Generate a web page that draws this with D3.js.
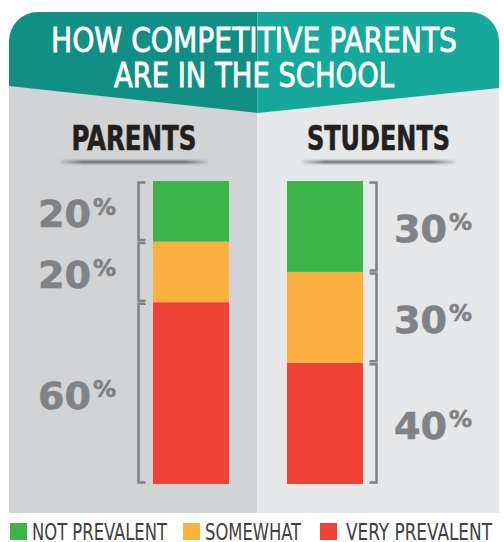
<!DOCTYPE html>
<html>
<head>
<meta charset="utf-8">
<script src="https://cdn.jsdelivr.net/npm/d3@7"></script>
<style>
  html, body { margin: 0; padding: 0; background: #ffffff; }
  svg { display: block; }
</style>
</head>
<body>
<svg id="chart" width="504" height="542"></svg>
<script>
// Survey groups and share of answers (percent) per category
const groups = ["PARENTS", "STUDENTS"];
const notPrevalent = [20, 30];
const somewhat = [20, 30];
const veryPrevalent = [60, 40];
const categories = ["NOT PREVALENT", "SOMEWHAT", "VERY PREVALENT"];
const titleLines = ["HOW COMPETITIVE PARENTS", "ARE IN THE SCHOOL"];

const colors = {
  "NOT PREVALENT": "#3bb54a",
  "SOMEWHAT": "#fbb040",
  "VERY PREVALENT": "#ef4136"
};

const narrow = "'Liberation Sans Narrow', 'DejaVu Sans Condensed', 'Arial Narrow', sans-serif";
const wide = "'DejaVu Sans', Verdana, sans-serif";

const svg = d3.select("#chart");

// ---- layout ----
const panelLeft = 9, panelRight = 499, divider = 257.5, panelTop = 80, panelBottom = 513;
const headTop = 12, headSide = 86, headTip = 113, cornerR = 29;

// background panels
svg.append("rect").attr("x", panelLeft).attr("y", panelTop)
  .attr("width", divider - panelLeft).attr("height", panelBottom - panelTop)
  .attr("fill", "#d1d3d4");
svg.append("rect").attr("x", divider).attr("y", panelTop)
  .attr("width", panelRight - divider).attr("height", panelBottom - panelTop)
  .attr("fill", "#e6e7e8");

// title banner: two halves forming a downward chevron
const leftHead = d3.path();
leftHead.moveTo(panelLeft, headSide);
leftHead.lineTo(panelLeft, headTop + cornerR);
leftHead.arcTo(panelLeft, headTop, panelLeft + cornerR, headTop, cornerR);
leftHead.lineTo(divider, headTop);
leftHead.lineTo(divider, headTip);
leftHead.closePath();

const rightHead = d3.path();
rightHead.moveTo(divider, headTop);
rightHead.lineTo(panelRight - cornerR, headTop);
rightHead.arcTo(panelRight, headTop, panelRight, headTop + cornerR, cornerR);
rightHead.lineTo(panelRight, headSide + 2);
rightHead.lineTo(divider, headTip);
rightHead.closePath();

svg.append("path").attr("d", leftHead.toString()).attr("fill", "#128f84");
svg.append("path").attr("d", rightHead.toString()).attr("fill", "#15a89b");

const titleWidths = [406, 280];
const titleBase = [52, 87];
svg.selectAll("text.title").data(titleLines).join("text")
  .attr("class", "title")
  .attr("x", 254)
  .attr("y", (d, i) => titleBase[i])
  .attr("text-anchor", "middle")
  .attr("textLength", (d, i) => titleWidths[i])
  .attr("lengthAdjust", "spacingAndGlyphs")
  .attr("font-family", narrow)
  .attr("font-size", 34)
  .attr("fill", "#ffffff")
  .attr("stroke", "#ffffff")
  .attr("stroke-width", 0.8)
  .text(d => d);

// ---- scales ----
const y = d3.scaleLinear().domain([0, 100]).range([484, 181]);
const barCenter = d3.scaleOrdinal().domain(groups).range([191, 325]);
const headCenter = d3.scaleOrdinal().domain(groups).range([134, 378.5]);
const barWidth = 76;

// group headings with soft shadow rule underneath
const defs = svg.append("defs");
defs.append("filter").attr("id", "soft")
  .attr("x", "-10%").attr("y", "-200%").attr("width", "120%").attr("height", "500%")
  .append("feGaussianBlur").attr("stdDeviation", 1.2);
const fade = defs.append("linearGradient").attr("id", "fade");
fade.append("stop").attr("offset", "0%").attr("stop-color", "#58595b").attr("stop-opacity", 0.15);
fade.append("stop").attr("offset", "15%").attr("stop-color", "#58595b").attr("stop-opacity", 0.9);
fade.append("stop").attr("offset", "85%").attr("stop-color", "#58595b").attr("stop-opacity", 0.9);
fade.append("stop").attr("offset", "100%").attr("stop-color", "#58595b").attr("stop-opacity", 0.15);

const headWidths = { "PARENTS": 125, "STUDENTS": 143 };
const ruleWidths = { "PARENTS": 148, "STUDENTS": 153 };

svg.selectAll("rect.rule").data(groups).join("rect")
  .attr("class", "rule")
  .attr("x", d => headCenter(d) - ruleWidths[d] / 2)
  .attr("y", 160.5)
  .attr("width", d => ruleWidths[d])
  .attr("height", 3)
  .attr("rx", 1.5)
  .attr("fill", "url(#fade)")
  .attr("filter", "url(#soft)");

svg.selectAll("text.head").data(groups).join("text")
  .attr("class", "head")
  .attr("x", d => headCenter(d))
  .attr("y", 150)
  .attr("text-anchor", "middle")
  .attr("textLength", d => headWidths[d])
  .attr("lengthAdjust", "spacingAndGlyphs")
  .attr("font-family", narrow)
  .attr("font-weight", "bold")
  .attr("font-size", 33)
  .attr("fill", "#231f20")
  .attr("stroke", "#231f20")
  .attr("stroke-width", 0.6)
  .text(d => d);

// ---- stacked bars ----
const rows = groups.map((g, i) => ({
  group: g,
  "NOT PREVALENT": notPrevalent[i],
  "SOMEWHAT": somewhat[i],
  "VERY PREVALENT": veryPrevalent[i]
}));
// bottom-up order: very prevalent, somewhat, not prevalent
const stackKeys = categories.slice().reverse();
const series = d3.stack().keys(stackKeys)(rows);

const segments = [];
series.forEach(s => {
  s.forEach(d => {
    segments.push({ key: s.key, group: d.data.group, y0: d[0], y1: d[1], value: d[1] - d[0] });
  });
});

svg.append("g").selectAll("rect").data(segments).join("rect")
  .attr("x", d => barCenter(d.group) - barWidth / 2)
  .attr("y", d => y(d.y1))
  .attr("width", barWidth)
  .attr("height", d => y(d.y0) - y(d.y1))
  .attr("fill", d => colors[d.key]);

// brackets: parents on the left of the bar, students on the right
const bracketGap = 14.5, tickLen = 7, inset = 1.5;
const bracket = d => {
  const left = d.group === groups[0];
  const xv = left ? barCenter(d.group) - barWidth / 2 - bracketGap
                  : barCenter(d.group) + barWidth / 2 + bracketGap - 1;
  const xt = left ? xv + tickLen : xv - tickLen;
  const top = y(d.y1) + inset, bot = y(d.y0) - inset;
  return `M${xt},${top}H${xv}V${bot}H${xt}`;
};
svg.append("g").selectAll("path").data(segments).join("path")
  .attr("d", bracket)
  .attr("fill", "none")
  .attr("stroke", "#808285")
  .attr("stroke-width", 2.5);

// percentage labels beside each bracket
const labelX = { "PARENTS": 38, "STUDENTS": 394 };
const labels = svg.append("g").selectAll("text").data(segments).join("text")
  .attr("x", d => labelX[d.group])
  .attr("y", d => (y(d.y0) + y(d.y1)) / 2 + 16)
  .attr("font-family", wide)
  .attr("font-weight", "bold")
  .attr("fill", "#808285")
  .attr("stroke", "#808285")
  .attr("stroke-width", 0.6);
labels.append("tspan")
  .attr("font-size", 37)
  .attr("textLength", 53)
  .attr("lengthAdjust", "spacingAndGlyphs")
  .text(d => d.value);
labels.append("tspan")
  .attr("font-size", 23)
  .attr("dx", 2)
  .attr("dy", -12)
  .text("%");

// ---- legend ----
const legendX = [10, 183, 320];
const legendW = [135, 96, 146];
const legend = svg.append("g").selectAll("g").data(categories).join("g")
  .attr("transform", (d, i) => `translate(${legendX[i]},523)`);
legend.append("rect")
  .attr("width", 17).attr("height", 17)
  .attr("fill", d => colors[d]);
legend.append("text")
  .attr("x", (d, i) => i === 2 ? 26 : 22)
  .attr("y", 17)
  .attr("textLength", (d, i) => legendW[i])
  .attr("lengthAdjust", "spacingAndGlyphs")
  .attr("font-family", narrow)
  .attr("font-size", 23)
  .attr("fill", "#414042")
  .text(d => d);
</script>
</body>
</html>
